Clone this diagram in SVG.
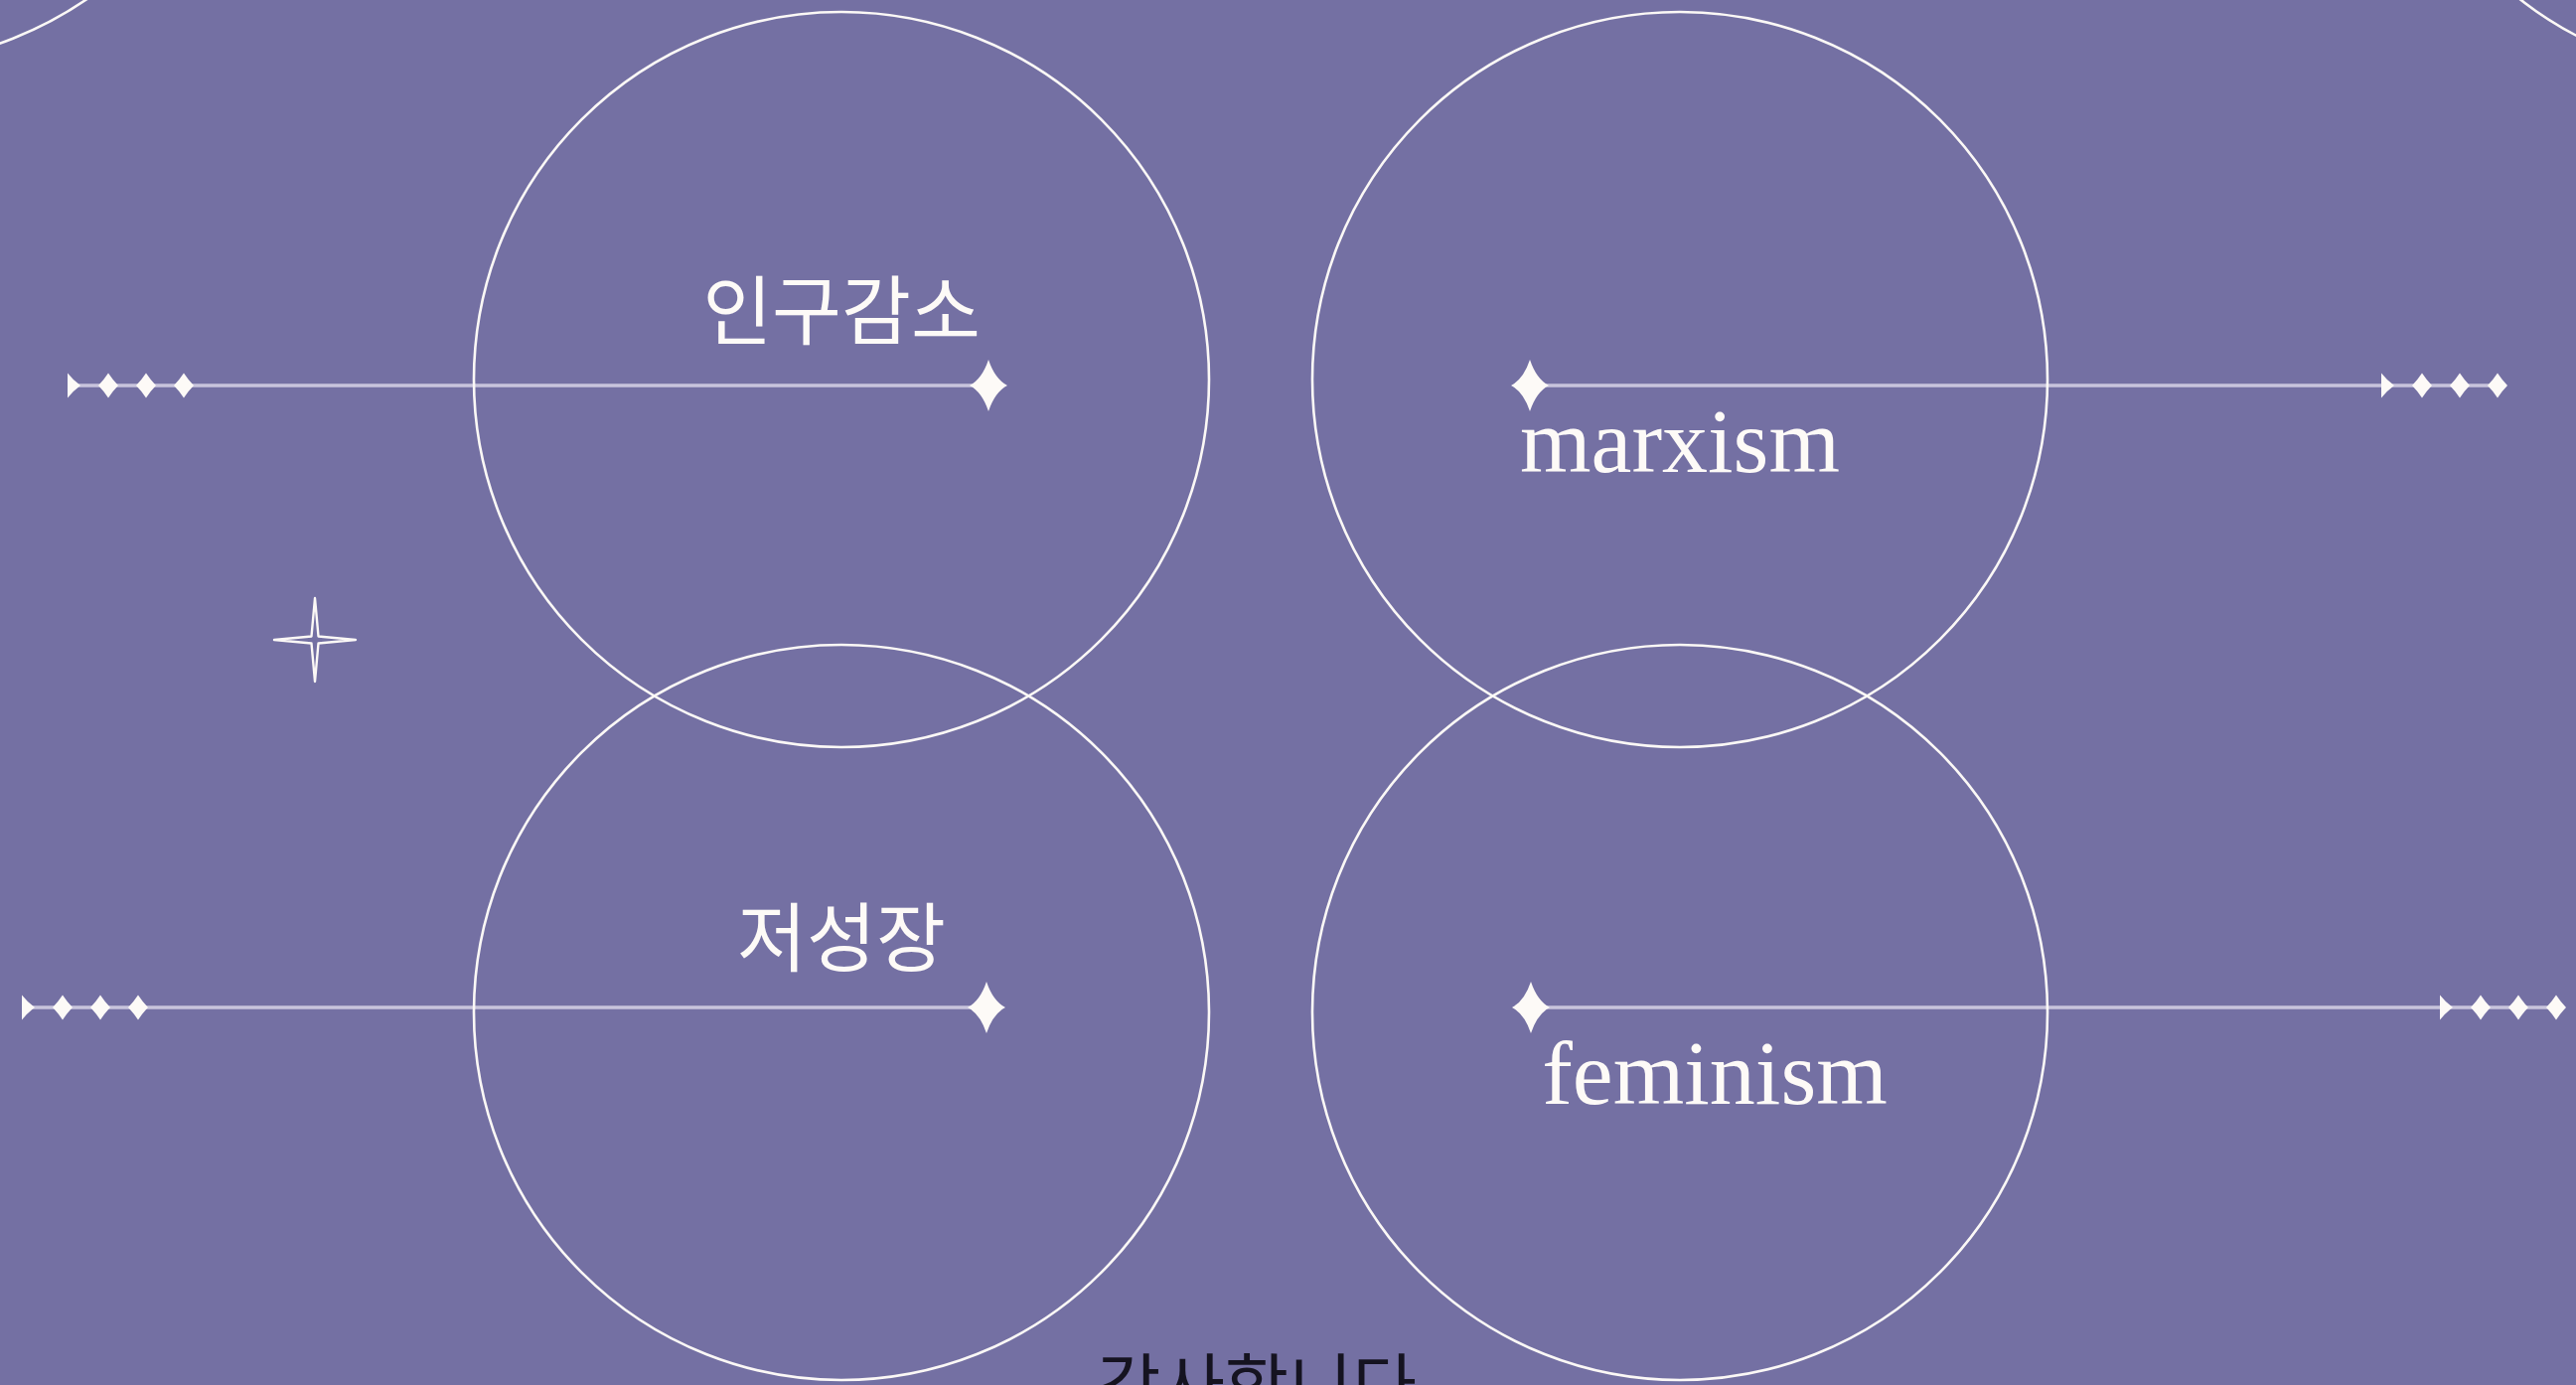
<svg xmlns="http://www.w3.org/2000/svg" width="2593" height="1394" viewBox="0 0 2593 1394">
<defs>
<style>
.ring{fill:none;stroke:#fbf8f6;stroke-width:2.6}
.rail{stroke:#c8c4dc;stroke-width:3.4;fill:none}
.spark{fill:#fdfaf7}
.ko{font-family:"Noto Sans CJK KR","Noto Sans",sans-serif;font-size:76px;fill:#fdfaf7;text-anchor:middle}
.en{font-family:"Liberation Serif","DejaVu Serif",serif;font-size:92px;fill:#fdfaf7;text-anchor:middle}
.thanks{font-family:"Noto Sans CJK KR",sans-serif;font-size:70px;fill:#151320;text-anchor:middle}
</style>
<path id="star" d="M0,-26 Q6.5,-6.5 19,0 Q6.5,6.5 0,26 Q-6.5,6.5 -19,0 Q-6.5,-6.5 0,-26Z"/>
<path id="dia" d="M0,-12.5 Q5,-5 10,0 Q5,5 0,12.5 Q-5,5 -10,0 Q-5,-5 0,-12.5Z"/>
<path id="half" d="M0,-12.5 Q5.5,-5.5 13,0 Q5.5,5.5 0,12.5Z"/>
<g id="tail" class="spark">
<use href="#half" x="0" y="0"/>
<use href="#dia" x="41" y="0"/>
<use href="#dia" x="79" y="0"/>
<use href="#dia" x="117" y="0"/>
</g>
</defs>
<rect width="2593" height="1394" fill="#7470a3"/>
<circle class="ring" cx="-125" cy="-310" r="375"/>
<circle class="ring" cx="2765" cy="-292" r="370"/>
<g id="connectors">
<line class="rail" x1="68" y1="388" x2="995" y2="388"/>
<line class="rail" x1="1540" y1="388" x2="2513" y2="388"/>
<line class="rail" x1="22" y1="1014" x2="993" y2="1014"/>
<line class="rail" x1="1541" y1="1014" x2="2573" y2="1014"/>
<use href="#tail" x="68" y="388"/>
<use href="#tail" x="2397" y="388"/>
<use href="#tail" x="22" y="1014"/>
<use href="#tail" x="2456" y="1014"/>
<g class="spark">
<use href="#star" x="995" y="388"/>
<use href="#star" x="1540" y="388"/>
<use href="#star" x="993" y="1014"/>
<use href="#star" x="1541" y="1014"/>
</g>
</g>
<g id="node-population">
<circle class="ring" cx="847" cy="382" r="370"/>
<text class="ko" x="847" y="341">인구감소</text>
</g>
<g id="node-marxism">
<circle class="ring" cx="1691" cy="382" r="370"/>
<text class="en" x="1691" y="475">marxism</text>
</g>
<g id="node-lowgrowth">
<circle class="ring" cx="847" cy="1019" r="370"/>
<text class="ko" x="847" y="972">저성장</text>
</g>
<g id="node-feminism">
<circle class="ring" cx="1691" cy="1019" r="370"/>
<text class="en" x="1726" y="1111">feminism</text>
</g>
<path id="sparkle" d="M317,602 L320.5,640.5 L358,644 L320.5,647.5 L317,686 L313.5,647.5 L276,644 L313.5,640.5 Z" fill="none" stroke="#fbf8f6" stroke-width="2.4" stroke-linejoin="round"/>
<text class="thanks" x="1265" y="1421">감사합니다</text>
</svg>
